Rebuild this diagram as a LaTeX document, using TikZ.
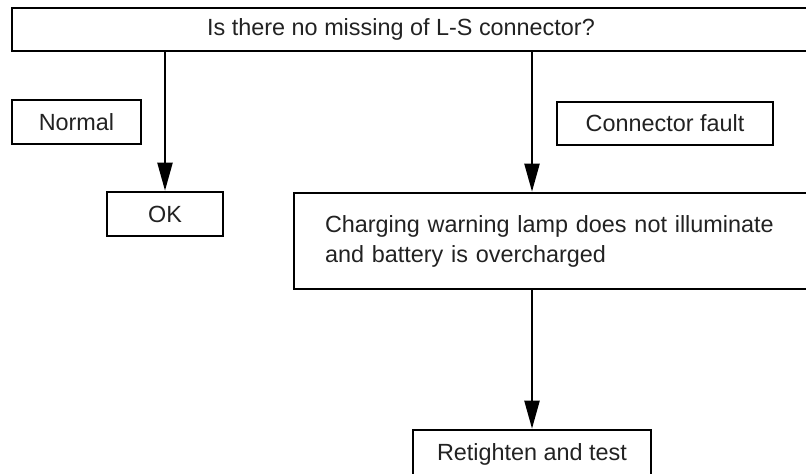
\documentclass[tikz,border=0pt]{standalone}
\usepackage{fontspec}
\setmainfont{Liberation Sans}
\usetikzlibrary{arrows.meta, positioning}
\definecolor{inkgray}{HTML}{222222}

\begin{document}
\begin{tikzpicture}[x=0.5pt, y=-0.5pt,
    box/.style={draw, line width=1.3pt, minimum width=#1, minimum height=22pt, inner sep=0pt, text=inkgray, font=\fontsize{11.7}{15}\selectfont},
    arrow/.style={-{Triangle[length=14pt, width=7.5pt]}, line width=1.1pt}
]
\useasboundingbox (0,0) rectangle (806,474);

\node[box=400pt, minimum height=21.5pt, label={[xshift=-5.5pt, text=inkgray, font=\fontsize{11.7}{15}\selectfont]center:Is there no missing of L-S connector?}] (question) at (412,29.5) {};
\node[box=64.5pt] (normal) at (76.5,122) {Normal};
\node[box=58pt] (ok) at (165,214) {OK};
\node[box=108pt, minimum height=21.5pt] (fault) at (665,123.5) {Connector fault};
\node[box=259pt, minimum height=48pt, text width=228pt, inner xsep=15.5pt, align=left] (lamp) at (553,241) {Charging warning lamp does not illuminate\\and battery is overcharged};
\node[box=119pt, minimum height=24pt] (retighten) at (532,454) {Retighten and test};

\draw[arrow] (ok.north |- question.south) -- (ok.north);
\draw[arrow] (retighten.north |- question.south) -- (retighten.north |- lamp.north);
\draw[arrow] (retighten.north |- lamp.south) -- (retighten.north);
\end{tikzpicture}
\end{document}
